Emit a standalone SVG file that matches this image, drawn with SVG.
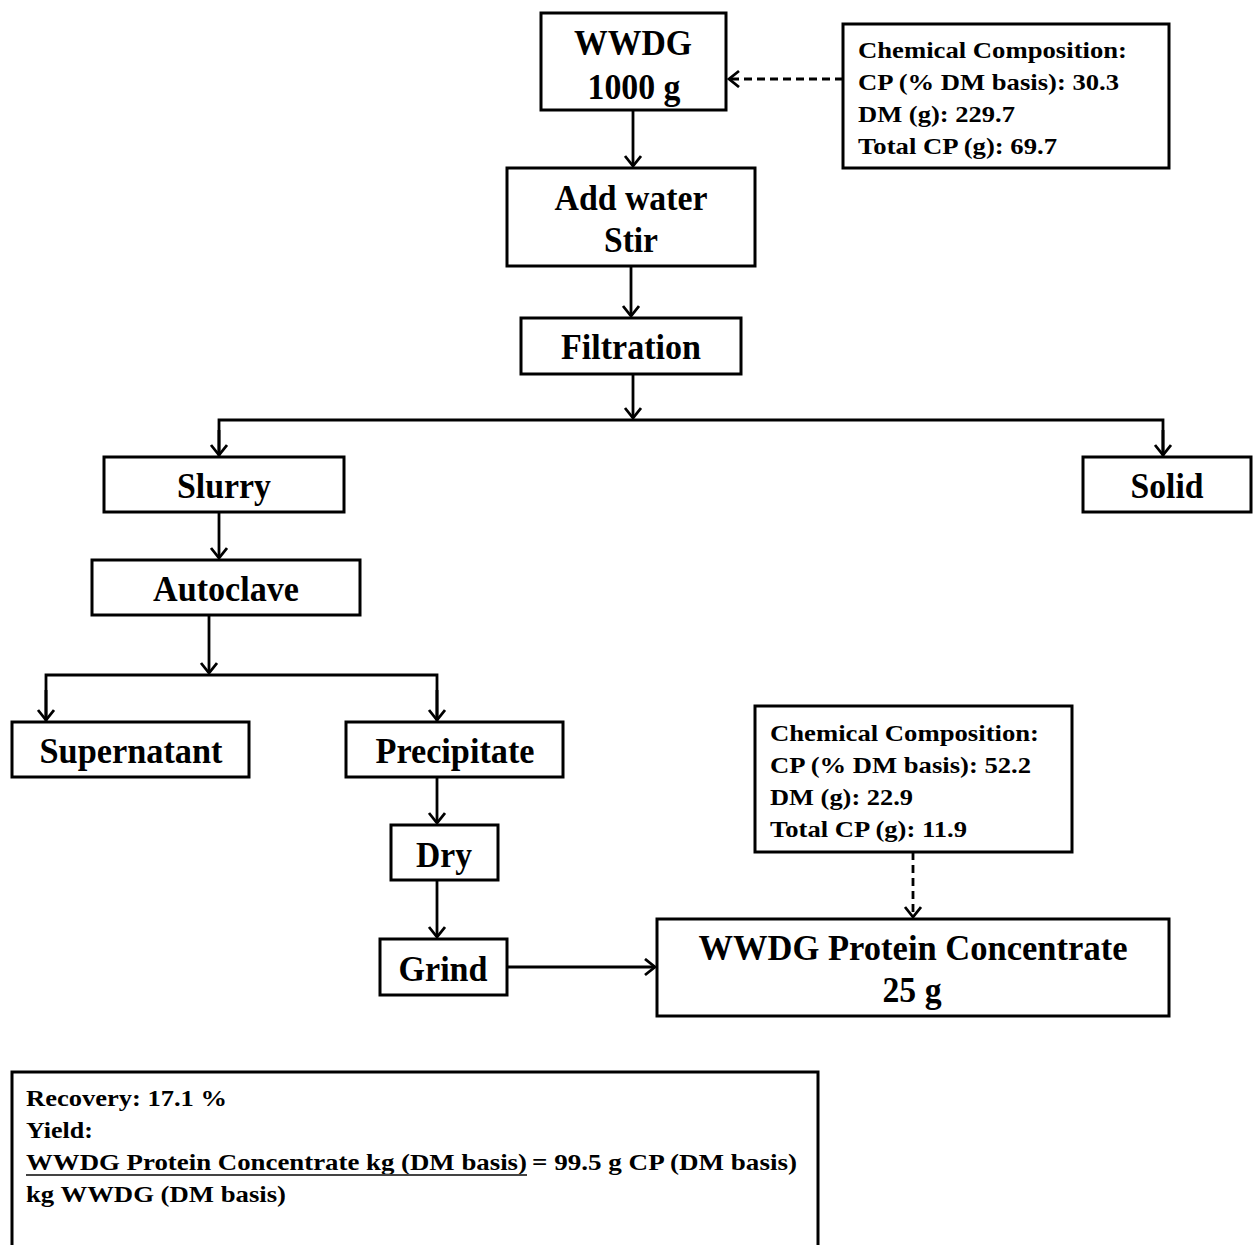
<svg xmlns="http://www.w3.org/2000/svg" width="1253" height="1245" viewBox="0 0 1253 1245">
  <style>
    .box { fill: #fff; stroke: #000; stroke-width: 3; }
    .big { font-family: "Liberation Serif", "Times New Roman", serif; font-weight: bold; font-size: 35px; fill: #000; text-anchor: middle; }
    .small { font-family: "Liberation Serif", "Times New Roman", serif; font-weight: bold; font-size: 24px; fill: #000; }
    .link { fill: none; stroke: #000; stroke-width: 2.8; }
    .dash { stroke-dasharray: 8 5; }
  </style>
  <defs>
    <marker id="arrow" markerUnits="userSpaceOnUse" markerWidth="18" markerHeight="20" refX="13" refY="9" orient="auto">
      <path d="M3,1 L13,9 L3,17" fill="none" stroke="#000" stroke-width="2.8"/>
    </marker>
  </defs>
  <rect width="1253" height="1245" fill="#fff"/>

  <g id="connectors">
    <line class="link dash" x1="843" y1="79" x2="729" y2="79" marker-end="url(#arrow)"/>
    <line class="link" x1="633" y1="110" x2="633" y2="166" marker-end="url(#arrow)"/>
    <line class="link" x1="631" y1="266" x2="631" y2="316" marker-end="url(#arrow)"/>
    <line class="link" x1="633" y1="374" x2="633" y2="418" marker-end="url(#arrow)"/>
    <polyline class="link" points="219,457 219,420 1163,420 1163,457"/>
    <line class="link" x1="219" y1="430" x2="219" y2="455" marker-end="url(#arrow)"/>
    <line class="link" x1="1163" y1="430" x2="1163" y2="455" marker-end="url(#arrow)"/>
    <line class="link" x1="219" y1="512" x2="219" y2="558" marker-end="url(#arrow)"/>
    <line class="link" x1="209" y1="615" x2="209" y2="673" marker-end="url(#arrow)"/>
    <polyline class="link" points="46,722 46,675 437,675 437,722"/>
    <line class="link" x1="46" y1="690" x2="46" y2="720" marker-end="url(#arrow)"/>
    <line class="link" x1="437" y1="690" x2="437" y2="720" marker-end="url(#arrow)"/>
    <line class="link" x1="437" y1="777" x2="437" y2="823" marker-end="url(#arrow)"/>
    <line class="link" x1="437" y1="880" x2="437" y2="937" marker-end="url(#arrow)"/>
    <line class="link" x1="507" y1="967" x2="655" y2="967" marker-end="url(#arrow)"/>
    <line class="link dash" x1="913" y1="852" x2="913" y2="917" marker-end="url(#arrow)"/>
  </g>

  <g id="wwdg">
    <rect class="box" x="541" y="13" width="185" height="97"/>
    <text class="big" x="633" y="55" textLength="118" lengthAdjust="spacingAndGlyphs">WWDG</text>
    <text class="big" x="634" y="99" textLength="93" lengthAdjust="spacingAndGlyphs">1000 g</text>
  </g>

  <g id="composition-raw">
    <rect class="box" x="843" y="24" width="326" height="144"/>
    <text class="small" x="858" y="58" textLength="269" lengthAdjust="spacingAndGlyphs">Chemical Composition:</text>
    <text class="small" x="858" y="90" textLength="261" lengthAdjust="spacingAndGlyphs">CP (% DM basis): 30.3</text>
    <text class="small" x="858" y="122" textLength="157" lengthAdjust="spacingAndGlyphs">DM (g): 229.7</text>
    <text class="small" x="858" y="154" textLength="199" lengthAdjust="spacingAndGlyphs">Total CP (g): 69.7</text>
  </g>

  <g id="add-water">
    <rect class="box" x="507" y="168" width="248" height="98"/>
    <text class="big" x="631" y="210" textLength="153" lengthAdjust="spacingAndGlyphs">Add water</text>
    <text class="big" x="631" y="252" textLength="54" lengthAdjust="spacingAndGlyphs">Stir</text>
  </g>

  <g id="filtration">
    <rect class="box" x="521" y="318" width="220" height="56"/>
    <text class="big" x="631" y="359" textLength="140" lengthAdjust="spacingAndGlyphs">Filtration</text>
  </g>

  <g id="slurry">
    <rect class="box" x="104" y="457" width="240" height="55"/>
    <text class="big" x="224" y="498" textLength="94" lengthAdjust="spacingAndGlyphs">Slurry</text>
  </g>

  <g id="solid">
    <rect class="box" x="1083" y="457" width="168" height="55"/>
    <text class="big" x="1167" y="498" textLength="73" lengthAdjust="spacingAndGlyphs">Solid</text>
  </g>

  <g id="autoclave">
    <rect class="box" x="92" y="560" width="268" height="55"/>
    <text class="big" x="226" y="601" textLength="146" lengthAdjust="spacingAndGlyphs">Autoclave</text>
  </g>

  <g id="supernatant">
    <rect class="box" x="12" y="722" width="237" height="55"/>
    <text class="big" x="131" y="763" textLength="183" lengthAdjust="spacingAndGlyphs">Supernatant</text>
  </g>

  <g id="precipitate">
    <rect class="box" x="346" y="722" width="217" height="55"/>
    <text class="big" x="455" y="763" textLength="159" lengthAdjust="spacingAndGlyphs">Precipitate</text>
  </g>

  <g id="dry">
    <rect class="box" x="391" y="825" width="107" height="55"/>
    <text class="big" x="444" y="867" textLength="56" lengthAdjust="spacingAndGlyphs">Dry</text>
  </g>

  <g id="grind">
    <rect class="box" x="380" y="939" width="127" height="56"/>
    <text class="big" x="443" y="981" textLength="89" lengthAdjust="spacingAndGlyphs">Grind</text>
  </g>

  <g id="protein-concentrate">
    <rect class="box" x="657" y="919" width="512" height="97"/>
    <text class="big" x="913" y="960" textLength="429" lengthAdjust="spacingAndGlyphs">WWDG Protein Concentrate</text>
    <text class="big" x="912" y="1002" textLength="59" lengthAdjust="spacingAndGlyphs">25 g</text>
  </g>

  <g id="composition-concentrate">
    <rect class="box" x="755" y="706" width="317" height="146"/>
    <text class="small" x="770" y="741" textLength="269" lengthAdjust="spacingAndGlyphs">Chemical Composition:</text>
    <text class="small" x="770" y="773" textLength="261" lengthAdjust="spacingAndGlyphs">CP (% DM basis): 52.2</text>
    <text class="small" x="770" y="805" textLength="143" lengthAdjust="spacingAndGlyphs">DM (g): 22.9</text>
    <text class="small" x="770" y="837" textLength="197" lengthAdjust="spacingAndGlyphs">Total CP (g): 11.9</text>
  </g>

  <g id="summary">
    <rect class="box" x="12" y="1072" width="806" height="190"/>
    <text class="small" x="26" y="1106" textLength="201" lengthAdjust="spacingAndGlyphs">Recovery: 17.1 %</text>
    <text class="small" x="26" y="1138" textLength="67" lengthAdjust="spacingAndGlyphs">Yield:</text>
    <text class="small" x="26" y="1170" textLength="501" lengthAdjust="spacingAndGlyphs">WWDG Protein Concentrate kg (DM basis)</text>
    <text class="small" x="532" y="1170" textLength="265" lengthAdjust="spacingAndGlyphs">= 99.5 g CP (DM basis)</text>
    <line x1="26" y1="1175" x2="527" y2="1175" stroke="#444" stroke-width="2"/>
    <text class="small" x="26" y="1202" textLength="260" lengthAdjust="spacingAndGlyphs">kg WWDG (DM basis)</text>
  </g>
</svg>
